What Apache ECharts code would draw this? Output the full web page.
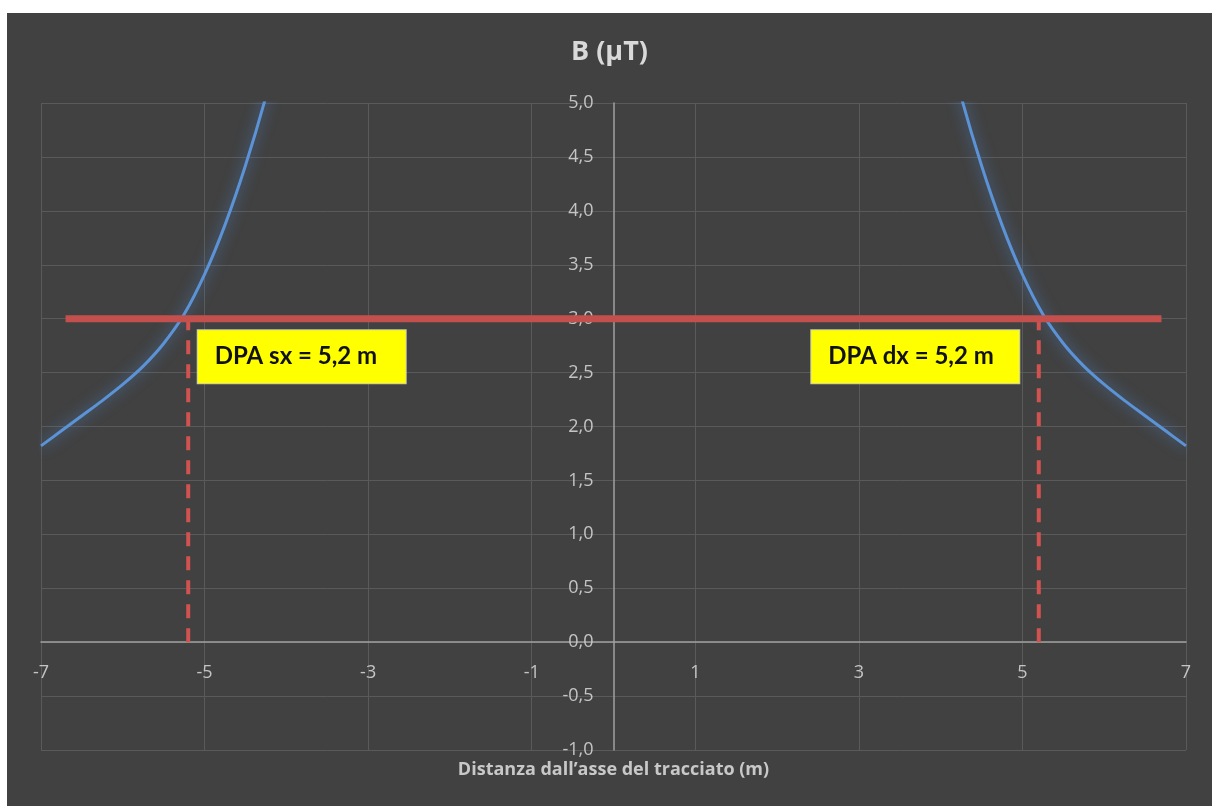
<!DOCTYPE html>
<html>
<head>
<meta charset="utf-8">
<title>B (μT)</title>
<script src="https://cdn.jsdelivr.net/npm/echarts@6/dist/echarts.min.js"></script>
<style>
  html, body { margin: 0; padding: 0; background: #ffffff; }
  #chart { position: absolute; left: 7px; top: 13px; width: 1205px; height: 793px; }
</style>
</head>
<body>
<div id="chart"></div>
<script>
// Magnetic induction profile across the line route
const distance = [-7.0, -6.75, -6.5, -6.25, -6.0, -5.75, -5.5, -5.25, -5.0, -4.75, -4.5, -4.25, -4.0, null,
                   4.0, 4.25, 4.5, 4.75, 5.0, 5.25, 5.5, 5.75, 6.0, 6.25, 6.5, 6.75, 7.0];
const fieldB   = [1.82, 1.96, 2.10, 2.24, 2.39, 2.56, 2.77, 3.04, 3.41, 3.87, 4.42, 5.06, 5.80, null,
                   5.80, 5.06, 4.42, 3.87, 3.41, 3.04, 2.77, 2.56, 2.39, 2.24, 2.10, 1.96, 1.82];

// Quality objective threshold and its extent along the route
const limitValue = 3.0;
const limitSpan = [-6.7, 6.7];

// DPA distances (left / right)
const dpaLeft = -5.2;
const dpaRight = 5.2;

// Axis ticks
const xTicks = { min: -7, max: 7, step: 2 };
const yTicks = { min: -1, max: 5, step: 0.5 };

const fmt = v => v.toFixed(1).replace('.', ',');

const curve = distance.map((d, i) => d === null ? [null, null] : [d, fieldB[i]]);

const chart = echarts.init(document.getElementById('chart'), null, { renderer: 'canvas' });

const axisFont = 'Open Sans';
const labelGray = '#c4c4c4';
const dpaRed = '#d0534f';

chart.setOption({
  backgroundColor: '#414141',
  animation: false,
  title: {
    text: 'B (μT)',
    left: 'center',
    top: 21,
    textStyle: { color: '#d9d9d9', fontSize: 27, fontWeight: 'bold', fontFamily: axisFont }
  },
  grid: { left: 34, right: 26, top: 90, bottom: 56, containLabel: false, outerBoundsMode: 'none' },
  xAxis: {
    type: 'value',
    min: xTicks.min, max: xTicks.max, interval: xTicks.step,
    name: 'Distanza dall\u2019asse del tracciato (m)',
    nameLocation: 'middle',
    nameGap: 119,
    nameTextStyle: { color: '#c8c8c8', fontSize: 18, fontWeight: 'bold', fontFamily: axisFont },
    axisLine: { onZero: false, lineStyle: { color: '#a0a0a0', width: 1.5 } },
    axisTick: { show: false },
    axisLabel: { color: labelGray, fontSize: 18, fontFamily: axisFont, margin: 22,
                 formatter: v => String(v) },
    splitLine: { show: true, lineStyle: { color: '#5a5a5a', width: 1 } }
  },
  yAxis: {
    type: 'value',
    min: yTicks.min, max: yTicks.max, interval: yTicks.step,
    axisLine: { onZero: false, lineStyle: { color: '#a0a0a0', width: 1.5 } },
    axisTick: { show: false },
    axisLabel: { color: labelGray, fontSize: 18, fontFamily: axisFont, margin: 20,
                 formatter: v => fmt(v) },
    splitLine: { show: true, lineStyle: { color: '#5a5a5a', width: 1 } }
  },
  series: [
    {
      name: 'B',
      type: 'line',
      data: curve,
      smooth: 0.3,
      showSymbol: false,
      connectNulls: false,
      clip: true,
      z: 3,
      lineStyle: {
        color: '#5b93d6', width: 3,
        shadowColor: 'rgba(80,140,215,0.85)', shadowBlur: 14
      }
    },
    {
      name: 'DPA sx',
      type: 'line',
      data: [[dpaLeft, 0], [dpaLeft, limitValue]],
      showSymbol: false,
      z: 4,
      lineStyle: { color: dpaRed, width: 4, type: [14, 10] }
    },
    {
      name: 'DPA dx',
      type: 'line',
      data: [[dpaRight, 0], [dpaRight, limitValue]],
      showSymbol: false,
      z: 4,
      lineStyle: { color: dpaRed, width: 4, type: [14, 10] }
    },
    {
      name: 'Limite',
      type: 'line',
      data: limitSpan.map(x => [x, limitValue]),
      showSymbol: false,
      z: 5,
      lineStyle: { color: '#c4504d', width: 7, cap: 'butt' }
    },
    {
      name: 'DPA labels',
      type: 'scatter',
      symbol: 'rect',
      symbolSize: 1,
      itemStyle: { color: 'rgba(0,0,0,0)', opacity: 1 },
      z: 6,
      silent: true,
      label: {
        show: true,
        opacity: 1,
        backgroundColor: '#ffff00',
        borderColor: '#c8c8b4',
        borderWidth: 1,
        padding: [13, 17, 13, 17],
        width: 174,
        lineHeight: 27,
        color: '#111111',
        fontSize: 24,
        fontWeight: 'bold',
        fontFamily: 'Lato'
      },
      data: [
        { value: [dpaLeft, limitValue],
          label: { position: [10, 12], formatter: 'DPA sx = ' + fmt(Math.abs(dpaLeft)) + ' m' } },
        { value: [dpaRight, limitValue],
          label: { position: [-227, 12], formatter: 'DPA dx = ' + fmt(Math.abs(dpaRight)) + ' m' } }
      ]
    }
  ]
});

// Move both axes (line and labels) onto the origin of the other axis
const origin = chart.convertToPixel({ gridIndex: 0 }, [0, 0]);
const leftEdge = chart.convertToPixel({ xAxisIndex: 0 }, xTicks.min);
const bottomEdge = chart.convertToPixel({ yAxisIndex: 0 }, yTicks.min);
chart.setOption({
  xAxis: { offset: origin[1] - bottomEdge },
  yAxis: { offset: leftEdge - origin[0] }
});
</script>
</body>
</html>
